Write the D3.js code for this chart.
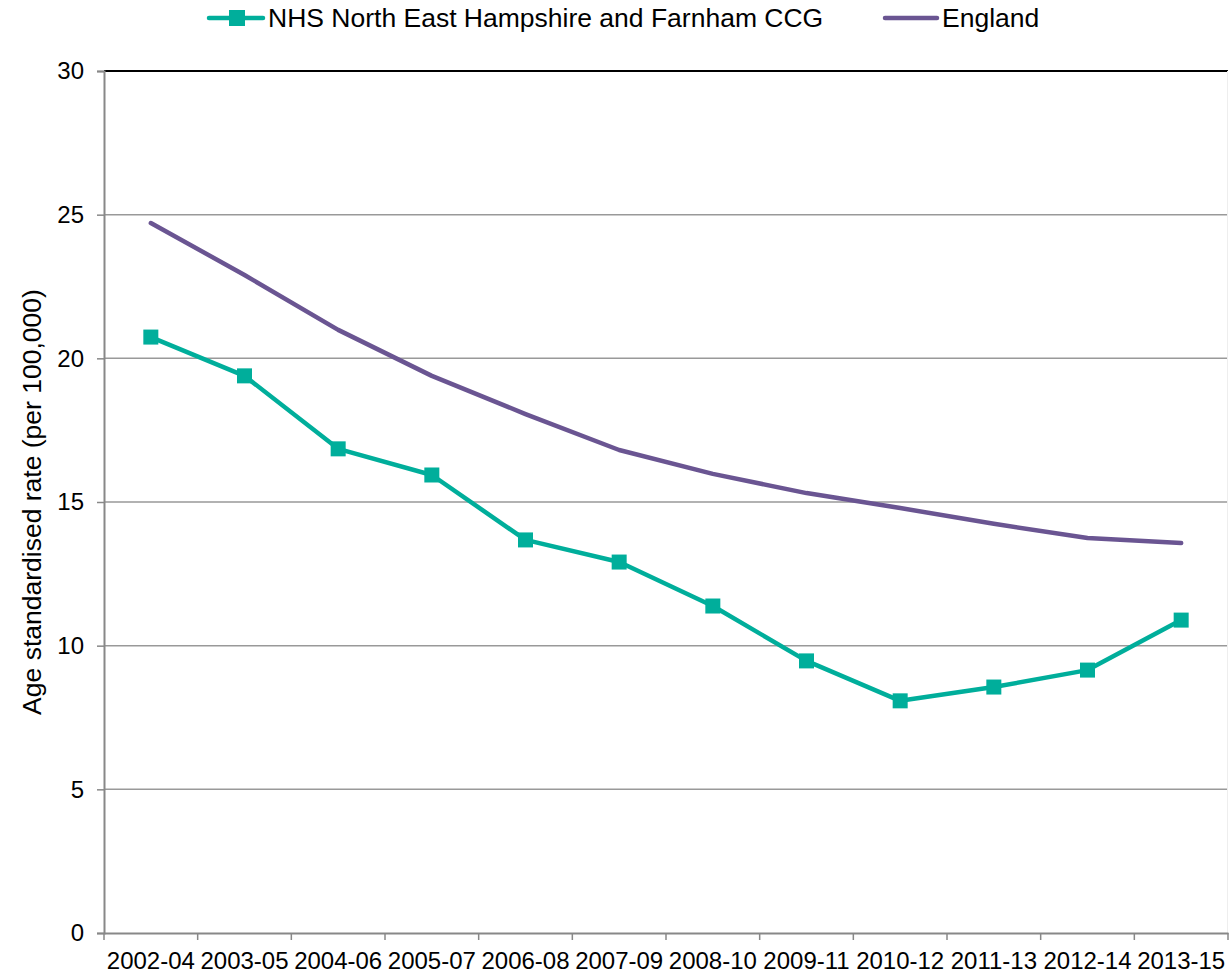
<!DOCTYPE html>
<html>
<head>
<meta charset="utf-8">
<script src="https://cdn.jsdelivr.net/npm/d3@7"></script>
<style>
  html, body { margin: 0; padding: 0; background: #fff; }
  svg { display: block; font-family: "Liberation Sans", Arial, sans-serif; }
</style>
</head>
<body>
<svg id="chart" width="1230" height="976"></svg>
<script>
const categories = ["2002-04","2003-05","2004-06","2005-07","2006-08","2007-09","2008-10","2009-11","2010-12","2011-13","2012-14","2013-15"];
const ccgValues = [20.74, 19.39, 16.85, 15.94, 13.68, 12.91, 11.38, 9.47, 8.08, 8.56, 9.15, 10.89];
const englandValues = [24.71, 22.90, 20.99, 19.39, 18.06, 16.81, 15.98, 15.31, 14.79, 14.24, 13.75, 13.57];
const yTicks = [0, 5, 10, 15, 20, 25, 30];
const seriesNames = ["NHS North East Hampshire and Farnham CCG", "England"];

const teal = "#00AE9B";
const purple = "#6A5592";
const FONT = "Liberation Sans, Arial, sans-serif";

const svg = d3.select("#chart");
const margin = {left: 104, right: 2, top: 71, bottom: 43};
const W = 1230, H = 976;
const x0 = margin.left, x1 = W - margin.right;
const y0 = H - margin.bottom, y1 = margin.top;

const x = d3.scaleBand().domain(categories).range([x0, x1]).paddingInner(0).paddingOuter(0);
const y = d3.scaleLinear().domain([0, 30]).range([y0, y1]);
const cx = d => x(d) + x.bandwidth() / 2;

// gridlines
svg.append("g").selectAll("line").data(yTicks.filter(t => t > 0 && t < 30)).join("line")
  .attr("x1", x0).attr("x2", x1)
  .attr("y1", d => y(d)).attr("y2", d => y(d))
  .attr("stroke", "#999").attr("stroke-width", 1.5);

// top border
svg.append("line").attr("x1", x0).attr("x2", x1).attr("y1", y(30)).attr("y2", y(30))
  .attr("stroke", "#000").attr("stroke-width", 2.2);
// right border
svg.append("line").attr("x1", x1 - 0.5).attr("x2", x1 - 0.5).attr("y1", y(30)).attr("y2", y0)
  .attr("stroke", "#eee").attr("stroke-width", 1);

// y axis
const yAxis = d3.axisLeft(y).tickValues(yTicks).tickSize(7).tickPadding(13).tickFormat(d3.format("d"));
const gy = svg.append("g").attr("transform", `translate(${x0},0)`).call(yAxis);
gy.attr("font-size", null).attr("font-family", null);
gy.select(".domain").attr("stroke", "#888").attr("stroke-width", 2);
gy.selectAll(".tick line").attr("stroke", "#888").attr("stroke-width", 1.5);
gy.selectAll("text").style("font-size", "24px").attr("fill", "#000").style("font-family", FONT);

// x axis
const xAxis = d3.axisBottom(x).tickSize(0).tickPadding(0);
const gx = svg.append("g").attr("transform", `translate(0,${y0})`).call(xAxis);
gx.attr("font-size", null).attr("font-family", null);
gx.select(".domain").attr("stroke", "#888").attr("stroke-width", 2);
gx.selectAll("text").style("font-size", "24px").attr("fill", "#000").style("font-family", FONT)
  .attr("y", 36).attr("dy", 0);
// boundary ticks
const bounds = categories.map(c => x(c)).concat([x1]);
svg.append("g").selectAll("line").data(bounds).join("line")
  .attr("x1", d => d).attr("x2", d => d)
  .attr("y1", y0).attr("y2", y0 + 7)
  .attr("stroke", "#888").attr("stroke-width", 1.5);

// y label
svg.append("text")
  .attr("transform", `translate(41,${(y0 + y1) / 2}) rotate(-90)`)
  .attr("text-anchor", "middle")
  .style("font-size", "26.5px")
  .style("font-family", FONT)
  .attr("fill", "#000")
  .text("Age standardised rate (per 100,000)");

// lines
const line = d3.line().x((d, i) => cx(categories[i])).y(d => y(d));
svg.append("path").datum(englandValues).attr("d", line)
  .attr("fill", "none").attr("stroke", purple).attr("stroke-width", 4.5)
  .attr("stroke-linecap", "round").attr("stroke-linejoin", "round");
svg.append("path").datum(ccgValues).attr("d", line)
  .attr("fill", "none").attr("stroke", teal).attr("stroke-width", 4.5)
  .attr("stroke-linejoin", "round");
const ms = 15;
svg.append("g").selectAll("rect").data(ccgValues).join("rect")
  .attr("x", (d, i) => cx(categories[i]) - ms / 2)
  .attr("y", d => y(d) - ms / 2)
  .attr("width", ms).attr("height", ms)
  .attr("fill", teal);

// legend
const lg = svg.append("g");
lg.append("line").attr("x1", 209).attr("x2", 263).attr("y1", 18).attr("y2", 18)
  .attr("stroke", teal).attr("stroke-width", 4.5).attr("stroke-linecap", "round");
lg.append("rect").attr("x", 237 - 8).attr("y", 18 - 8).attr("width", 16).attr("height", 16).attr("fill", teal);
lg.append("text").attr("x", 268).attr("y", 27).style("font-size", "26.5px").style("font-family", FONT).attr("fill", "#000").text(seriesNames[0]);
lg.append("line").attr("x1", 885).attr("x2", 937).attr("y1", 18).attr("y2", 18)
  .attr("stroke", purple).attr("stroke-width", 4.5).attr("stroke-linecap", "round");
lg.append("text").attr("x", 942).attr("y", 27).style("font-size", "26.5px").style("font-family", FONT).attr("fill", "#000").text(seriesNames[1]);
</script>
</body>
</html>
